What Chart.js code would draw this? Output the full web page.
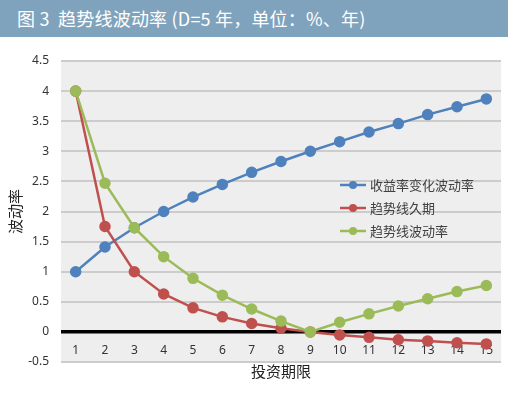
<!DOCTYPE html>
<html>
<head>
<meta charset="utf-8">
<script src="https://cdn.jsdelivr.net/npm/chart.js@4"></script>
<style>
  body { margin: 0; background: #fff; }
  #head {
    width: 508px; height: 37px; background: #7fa3bd; color: #fff;
    font-family: "Noto Sans CJK SC", sans-serif; font-size: 18px; line-height: 37px;
    padding-left: 17px; box-sizing: border-box; white-space: nowrap; letter-spacing: 0.2px;
  }
  #wrap { width: 508px; height: 357px; position: relative; }
</style>
</head>
<body>
<div id="head">图 3&nbsp; 趋势线波动率 (D=5 年，单位：%、年)</div>
<div id="wrap"><canvas id="chart"></canvas></div>
<script>
const periods = ["1", "2", "3", "4", "5", "6", "7", "8", "9", "10", "11", "12", "13", "14", "15"];
const yieldVol = [1.00, 1.41, 1.73, 2.00, 2.24, 2.45, 2.65, 2.83, 3.00, 3.16, 3.32, 3.46, 3.61, 3.74, 3.87];
const trendDuration = [4.00, 1.75, 1.00, 0.63, 0.40, 0.25, 0.14, 0.06, 0.00, -0.05, -0.09, -0.13, -0.15, -0.18, -0.20];
const trendVol = [4.00, 2.47, 1.73, 1.25, 0.89, 0.61, 0.38, 0.18, 0.00, 0.16, 0.30, 0.43, 0.55, 0.67, 0.77];
const seriesNames = ["收益率变化波动率", "趋势线久期", "趋势线波动率"];
const seriesColors = ["#4f81bd", "#c0504d", "#9bbb59"];
const yMin = -0.5, yMax = 4.5, yStep = 0.5;

const fontName = "'Noto Sans', 'Noto Sans CJK SC', sans-serif";

// grey plot background
const plotBg = {
  id: "plotBg",
  beforeDraw(chart) {
    const a = chart.chartArea, c = chart.ctx;
    c.save();
    c.fillStyle = "#eeeeee";
    c.fillRect(a.left, a.top, a.right - a.left, a.bottom - a.top);
    c.restore();
  }
};

// legend sits inside the plot, right of centre
const innerLegend = {
  id: "innerLegend",
  afterDatasetsDraw(chart) {
    const a = chart.chartArea, c = chart.ctx;
    c.save();
    c.font = "13px 'Noto Sans CJK SC'";
    c.textBaseline = "middle";
    chart.data.datasets.forEach((ds, i) => {
      const y = a.top + 124 + i * 23;
      const x = a.left + 279;
      c.strokeStyle = ds.borderColor;
      c.lineWidth = 2.5;
      c.beginPath(); c.moveTo(x, y); c.lineTo(x + 26, y); c.stroke();
      c.fillStyle = ds.borderColor;
      c.beginPath(); c.arc(x + 13, y, 4, 0, Math.PI * 2); c.fill();
      c.fillStyle = "#404040";
      c.fillText(ds.label, x + 30, y);
    });
    c.restore();
  }
};

const data = [yieldVol, trendDuration, trendVol];

new Chart("chart", {
  type: "line",
  data: {
    labels: periods,
    datasets: data.map((vals, i) => ({
      label: seriesNames[i],
      data: vals,
      borderColor: seriesColors[i],
      backgroundColor: seriesColors[i],
      borderWidth: 2.5,
      pointRadius: 4.5,
      pointHoverRadius: 4.5,
      order: 3 - i,
      tension: 0
    }))
  },
  options: {
    responsive: true,
    maintainAspectRatio: false,
    animation: false,
    layout: { padding: { top: 24, right: 3, bottom: 14, left: 0 } },
    plugins: {
      legend: { display: false },
      tooltip: { enabled: false }
    },
    scales: {
      x: {
        type: "category",
        offset: true,
        position: { y: 0 },
        afterFit(scale) { scale.height = 0; },
        grid: { display: false, drawTicks: false },
        border: { display: false },
        ticks: { color: "#333", font: { family: fontName, size: 12 }, padding: 11, maxRotation: 0 }
      },
      xt: {
        type: "category",
        offset: true,
        position: "bottom",
        grid: { display: false, drawTicks: false },
        border: { display: false },
        ticks: { display: false },
        title: { display: true, text: "投资期限", color: "#222", font: { family: "'Noto Sans CJK SC'", size: 15 }, padding: { top: 0, bottom: 0 } }
      },
      y: {
        min: yMin,
        max: yMax,
        afterFit(scale) { scale.width = 61; },
        ticks: {
          stepSize: yStep,
          color: "#333",
          font: { family: fontName, size: 12 },
          padding: 12,
          callback: v => String(Math.round(v * 10) / 10)
        },
        grid: {
          drawTicks: false,
          color: ctx => ctx.tick && ctx.tick.value === 0 ? "#000" : "#cccccc",
          lineWidth: ctx => ctx.tick && ctx.tick.value === 0 ? 3.5 : 2
        },
        border: { display: false },
        title: { display: true, text: "波动率", color: "#222", font: { family: "'Noto Sans CJK SC'", size: 15 }, padding: { top: 6, bottom: 0 } }
      }
    }
  },
  plugins: [plotBg, innerLegend]
});
</script>
</body>
</html>
